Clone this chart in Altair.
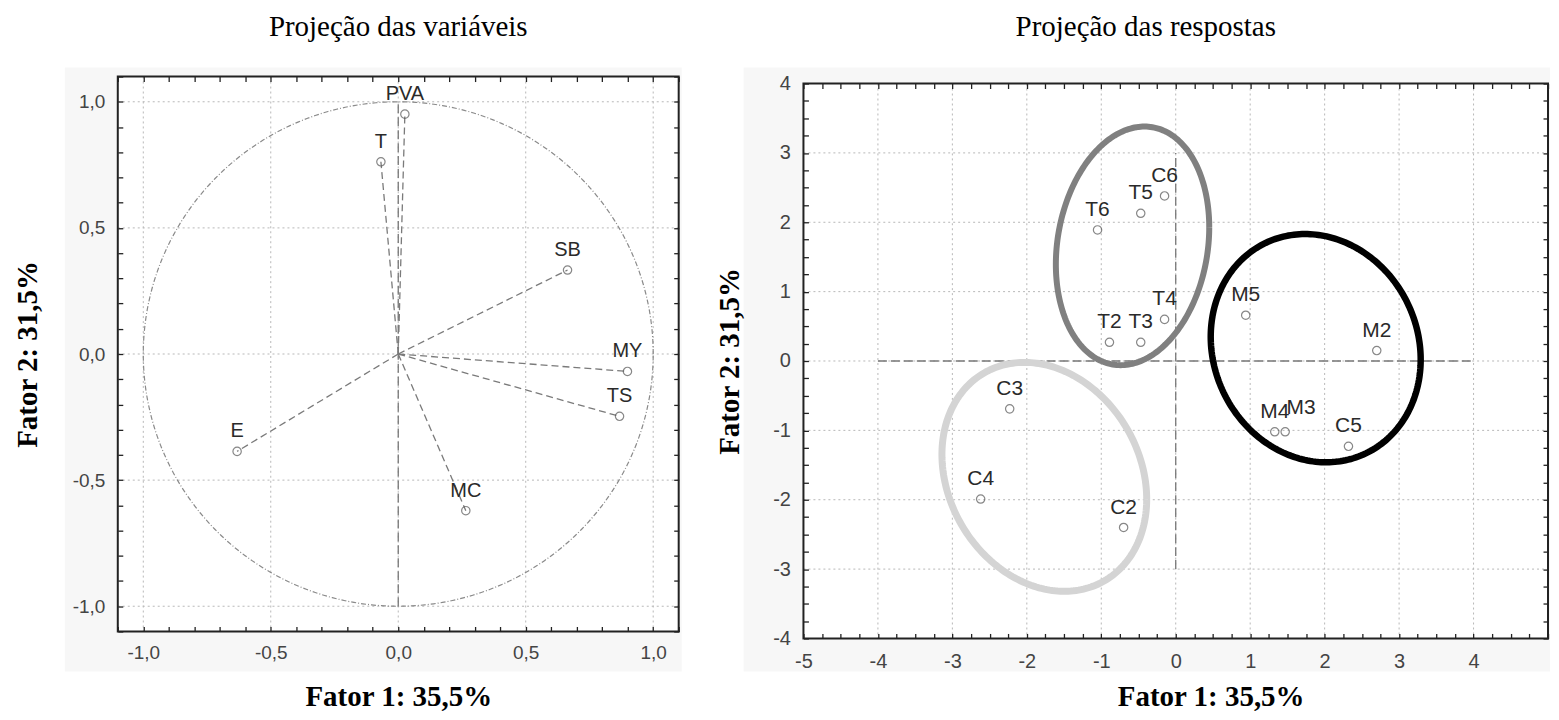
import altair as alt
import numpy as np
import pandas as pd

# ---------------- data ----------------
# Left panel: projection of the variables (factor loadings)
var_names = ["PVA", "T", "SB", "MY", "TS", "E", "MC"]
var_f1 = [0.026, -0.068, 0.664, 0.899, 0.868, -0.632, 0.265]
var_f2 = [0.951, 0.762, 0.333, -0.069, -0.247, -0.386, -0.621]

# Right panel: projection of the cases (factor scores)
obs_names = ["T6", "T5", "C6", "T4", "T2", "T3", "M5", "M2", "M4", "M3", "C5", "C3", "C4", "C2"]
obs_f1 = [-1.05, -0.47, -0.15, -0.15, -0.89, -0.47, 0.94, 2.70, 1.33, 1.47, 2.32, -2.23, -2.62, -0.70]
obs_f2 = [1.89, 2.13, 2.38, 0.60, 0.27, 0.27, 0.66, 0.15, -1.02, -1.02, -1.23, -0.69, -1.99, -2.40]

# Group ellipses drawn on the right panel (centre, half-extents, skew)
ell_group = ["T", "M", "C"]
ell_cx = [-0.58, 1.88, -1.765]
ell_cy = [1.66, 0.185, -1.67]
ell_hx = [1.03, 1.41, 1.375]
ell_hy = [1.72, 1.645, 1.65]
ell_skew = [0.155, -0.10, -0.195]
ell_color = ["#808080", "#000000", "#d4d4d4"]
ell_width = [6, 7, 6]

# Axis ticks
left_major = [-1.0, -0.5, 0.0, 0.5, 1.0]
left_minor = [round(v, 1) for v in np.arange(-1.1, 1.1001, 0.1)]
right_label_x = [-5, -4, -3, -2, -1, 0, 1, 2, 3, 4]   # the "5" is cut off at the edge
right_label_y = [-4, -3, -2, -1, 0, 1, 2, 3, 4]
right_minor_x = [round(v, 2) for v in np.arange(-5, 5.001, 0.25)]
right_minor_y = [round(v, 2) for v in np.arange(-4, 4.001, 0.25)]
left_grid = [-1.0, -0.5, 0.0, 0.5, 1.0]
right_grid_x = [-4, -3, -2, -1, 0, 1, 2, 3, 4]
right_grid_y = [-3, -2, -1, 0, 1, 2, 3]

# reference lines (x, y, x2, y2)
left_ref = {"x": [0.0], "y": [-1.0], "x2": [0.0], "y2": [1.0]}
right_ref = {"x": [-4.0, 0.0], "y": [0.0, -3.0], "x2": [4.0, 0.0], "y2": [0.0, 3.0]}

shifted_labels = ["M3"]

# ---------------- styling ----------------
G = 563                      # common group height of both panels
WL, L_TOP, L_BOT = 562, 0, 556
WR, R_TOP, R_BOT = 746, 7, 563
SANS = "Liberation Sans"
NARROW = "Liberation Sans Narrow, Liberation Sans"
SERIF = "Liberation Serif"
BG = "#f7f7f7"

left_label_expr = "(datum.value < 0 ? '-' : '') + replace(format(abs(datum.value), '.1f'), '.', ',')"
right_label_expr = "'' + datum.value"


def panel(title, title_dx, W, ytop, ybot, xdom, ydom, majx, majy, minx, miny, gridx, gridy,
          refd, pts, label_expr, tick_font, tick_size, lab_font, lab_size,
          bg_left, bg_right, bg_top, bg_bottom, ytitle_x, xtitle_dx, xtitle_y,
          xlab_pad, extra_layers):
    sx = alt.Scale(domain=xdom, nice=False, zero=False)
    sy = alt.Scale(domain=ydom, nice=False, zero=False, range=[ybot, ytop])
    one = alt.Data(values=[{}])
    bg = alt.Chart(one).mark_rect(color=BG).encode(
        x=alt.value(bg_left), x2=alt.value(W + bg_right), y=alt.value(ytop + bg_top),
        y2=alt.value(ybot + bg_bottom))
    white = alt.Chart(one).mark_rect(color="white").encode(
        x=alt.value(0), x2=alt.value(W), y=alt.value(ytop), y2=alt.value(ybot))
    vgrid = alt.Chart(pd.DataFrame({"x": gridx})).mark_rule(
        color="#b8b8b8", strokeDash=[2, 3], strokeWidth=1).encode(
        x=alt.X("x:Q", scale=sx, axis=None), y=alt.value(ytop), y2=alt.value(ybot))
    hgrid = alt.Chart(pd.DataFrame({"y": gridy})).mark_rule(
        color="#b8b8b8", strokeDash=[2, 3], strokeWidth=1).encode(
        y=alt.Y("y:Q", scale=sy, axis=None), x=alt.value(0), x2=alt.value(W))
    ref = alt.Chart(pd.DataFrame(refd)).mark_rule(
        color="#777777", strokeDash=[9, 4], strokeWidth=1.3).encode(
        x=alt.X("x:Q", scale=sx, axis=None), y=alt.Y("y:Q", scale=sy, axis=None),
        x2="x2:Q", y2="y2:Q")

    axA_x = alt.Axis(orient="bottom", offset=ybot - G, values=majx, labelExpr=label_expr,
                     ticks=False, tickSize=0, domain=False, grid=False, labelPadding=xlab_pad,
                     labelFont=tick_font, labelFontSize=tick_size, labelColor="#444",
                     labelFlush=False, title="Fator 1: 35,5%", titleFont=SERIF,
                     titleFontSize=29, titleFontWeight="bold", titleColor="black",
                     titleX=W / 2 + xtitle_dx, titleY=xtitle_y, titleBaseline="middle",
                     titleAlign="center", zindex=1)
    axA_y = alt.Axis(orient="left", values=majy, labelExpr=label_expr, ticks=False, tickSize=0,
                     domain=False, grid=False, labelPadding=13, labelFont=tick_font,
                     labelFontSize=tick_size, labelColor="#444", labelFlush=False,
                     title="Fator 2: 31,5%", titleFont=SERIF, titleFontSize=29,
                     titleFontWeight="bold", titleColor="black", titleX=ytitle_x,
                     titleY=(ytop + ybot) / 2, titleBaseline="middle", titleAlign="center",
                     titleAngle=270, zindex=1)
    tick_kw = dict(labels=False, domain=False, grid=False, tickSize=5, tickColor="#222",
                   tickWidth=1.3, title=None, zindex=1)
    axB_x = alt.Axis(orient="top", offset=-ybot, values=minx, **tick_kw)
    axB_y = alt.Axis(orient="right", offset=-W, values=miny, **tick_kw)
    axC_x = alt.Axis(orient="bottom", offset=-(G - ytop), values=minx, **tick_kw)
    axC_y = alt.Axis(orient="left", offset=-W, values=miny, **tick_kw)

    pts_points = alt.Chart(pts).mark_point(shape="circle", filled=False, size=70,
                                           color="#555555", strokeWidth=1.2).encode(
        x=alt.X("x:Q", scale=sx, axis=axA_x), y=alt.Y("y:Q", scale=sy, axis=axA_y))
    inv1 = alt.Chart(pts).mark_point(opacity=0).encode(
        x=alt.X("x:Q", scale=sx, axis=axB_x), y=alt.Y("y:Q", scale=sy, axis=axB_y))
    inv2 = alt.Chart(pts).mark_point(opacity=0).encode(
        x=alt.X("x:Q", scale=sx, axis=axC_x), y=alt.Y("y:Q", scale=sy, axis=axC_y))

    labels = alt.Chart(pts).mark_text(font=lab_font, fontSize=lab_size, color="#2a2a2a",
                                      dy=-20, baseline="middle").encode(
        x=alt.X("x:Q", scale=sx, axis=None), y=alt.Y("y:Q", scale=sy, axis=None),
        text="name:N").transform_filter(
        ~alt.FieldOneOfPredicate(field="name", oneOf=shifted_labels))
    labels2 = alt.Chart(pts).mark_text(font=lab_font, fontSize=lab_size, color="#2a2a2a",
                                       dx=16, dy=-24, baseline="middle").encode(
        x=alt.X("x:Q", scale=sx, axis=None), y=alt.Y("y:Q", scale=sy, axis=None),
        text="name:N").transform_filter(
        alt.FieldOneOfPredicate(field="name", oneOf=shifted_labels))

    frame = alt.Chart(one).mark_rect(fillOpacity=0, stroke="#222222", strokeWidth=2).encode(
        x=alt.value(0), x2=alt.value(W), y=alt.value(ytop), y2=alt.value(ybot))

    layers = [bg, white, vgrid, hgrid, ref] + [l(sx, sy) for l in extra_layers] + [
        pts_points, labels, labels2, inv1, inv2, frame]
    return alt.layer(*layers).resolve_axis(x="independent", y="independent").properties(
        width=W, height=G,
        title=alt.TitleParams(text=title, font=SERIF, fontSize=29, fontWeight="normal",
                              color="black", anchor="middle", frame="group", offset=26,
                              dx=title_dx))


# ----- left panel -----
left_pts = pd.DataFrame({"name": var_names, "x": var_f1, "y": var_f2})

t = np.linspace(0, 2 * np.pi, 361)
circle_df = pd.DataFrame({"x": np.cos(t), "y": np.sin(t), "o": np.arange(len(t))})
vec_df = pd.DataFrame({"x0": [0.0] * len(var_names), "y0": [0.0] * len(var_names),
                       "x": var_f1, "y": var_f2})


def circle_layer(sx, sy):
    return alt.Chart(circle_df).mark_line(color="#8a8a8a", strokeDash=[5, 2, 1, 2],
                                          strokeWidth=1.2).encode(
        x=alt.X("x:Q", scale=sx, axis=None), y=alt.Y("y:Q", scale=sy, axis=None), order="o:Q")


def vector_layer(sx, sy):
    return alt.Chart(vec_df).mark_rule(color="#7a7a7a", strokeDash=[7, 4],
                                       strokeWidth=1.3).encode(
        x=alt.X("x0:Q", scale=sx, axis=None), y=alt.Y("y0:Q", scale=sy, axis=None),
        x2="x:Q", y2="y:Q")


left = panel("Projeção das variáveis", 0, WL, L_TOP, L_BOT, [-1.1, 1.1], [-1.1, 1.1],
             left_major, left_major, left_minor, left_minor, left_grid, left_grid, left_ref,
             left_pts, left_label_expr, SANS, 19, SANS, 20,
             -53, 3, -9, 40, -90, 0, 65, 12, [circle_layer, vector_layer])

# ----- right panel -----
right_pts = pd.DataFrame({"name": obs_names, "x": obs_f1, "y": obs_f2})

rows = []
tt = np.linspace(0, 2 * np.pi, 241)
for g, cx, cy, hx, hy, sk in zip(ell_group, ell_cx, ell_cy, ell_hx, ell_hy, ell_skew):
    d = np.arcsin(sk)
    for i, a in enumerate(tt):
        rows.append({"g": g, "o": i, "x": cx + hx * np.cos(a), "y": cy + hy * np.sin(a + d)})
ell_df = pd.DataFrame(rows)


def ellipse_layer(sx, sy):
    return alt.Chart(ell_df).mark_line().encode(
        x=alt.X("x:Q", scale=sx, axis=None), y=alt.Y("y:Q", scale=sy, axis=None),
        order="o:Q", detail="g:N",
        color=alt.Color("g:N", scale=alt.Scale(domain=ell_group, range=ell_color), legend=None),
        strokeWidth=alt.StrokeWidth("g:N", scale=alt.Scale(domain=ell_group, range=ell_width),
                                    legend=None))


right = panel("Projeção das respostas", -30, WR, R_TOP, R_BOT, [-5, 5], [-4, 4],
              right_label_x, right_label_y, right_minor_x, right_minor_y, right_grid_x,
              right_grid_y, right_ref, right_pts, right_label_expr, NARROW, 20, NARROW, 21,
              -60, 2, -16, 33, -74, 35, 58, 13, [ellipse_layer])

chart = alt.hconcat(left, right, spacing=32).properties(
    padding={"left": 5, "top": 3, "right": 0, "bottom": 0}
).configure_view(stroke=None).configure(background="white")

chart.save("out.html", embed_options={"renderer": "svg", "actions": False})
